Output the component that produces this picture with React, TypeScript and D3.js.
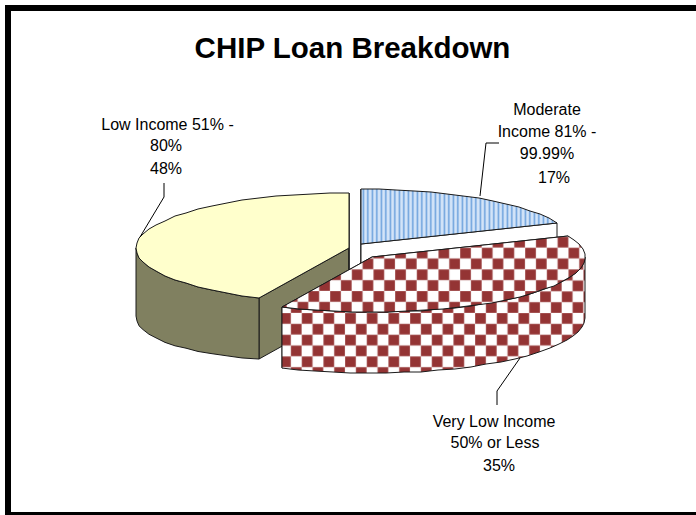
import React from "react";
import * as d3 from "d3";

const title = "CHIP Loan Breakdown";
const categories = ["Moderate Income 81% - 99.99%", "Very Low Income 50% or Less", "Low Income 51% - 80%"];
const shares = [17, 35, 48];
const labelLines = [
  ["Moderate", "Income 81% -", "99.99%", "17%"],
  ["Very Low Income", "50% or Less", "35%"],
  ["Low Income 51% -", "80%", "48%"],
];

// Excel's perspective view stretches the angles seen on the rim.
const rimAngle = d3.scaleLinear().domain([0, 61.2, 187.2, 360]).range([0, 67, 205, 360]);
const rx = 213, ry = 55, depth = 61;
const centres = [[361, 244], [372, 257], [349, 248]];
const topFills = ["url(#stripes)", "url(#checkTop)", "#ffffcc"];
const wallFills = ["#ffffff", "url(#checkSide)", "#808060"];
const labelX = [[547, 547, 547, 554], [494, 495, 499], [167.5, 166, 166]];
const labelY = [[115, 137, 159, 183], [427, 448, 471], [130, 151, 174]];
const leaders = [
  [[480, 196], [486, 143], [499, 143]],
  [[520, 358], [497, 391], [497, 405]],
  [[140, 237], [164, 197], [164, 183]],
];

const rad = Math.PI / 180;
const pt = (c: number[], a: number, dy = 0): [number, number] => [
  Math.round(c[0] + rx * Math.sin(a * rad)),
  Math.round(c[1] - ry * Math.cos(a * rad)) + dy,
];
// the wall looks a little taller towards the far left of the pie
const wallDepth = (a: number) => depth + 7 * Math.max(0, (-Math.sin(a * rad) - 0.42) / 0.58);
const rim = (c: number[], a0: number, a1: number, wall = false) => {
  const n = Math.max(2, Math.ceil((a1 - a0) / 5));
  return d3.range(n + 1).map((i) => {
    const a = a0 + ((a1 - a0) * i) / n;
    return pt(c, a, wall ? wallDepth(a) : 0);
  });
};
const line = d3.line();

export default function App() {
  const arcs = d3.pie<number>().sort(null).value((d) => d)(shares);
  const slices = arcs.map((s, i) => ({
    i,
    c: centres[i],
    a0: rimAngle((s.startAngle * 180) / Math.PI),
    a1: rimAngle((s.endAngle * 180) / Math.PI),
  }));
  const stroke = "#1a1a1a";
  return (
    <svg width={696} height={515} style={{ position: "fixed", left: 0, top: 0, background: "#fff" }}>
      <defs>
        <pattern id="stripes" width={4.5} height={10} patternUnits="userSpaceOnUse" patternTransform="translate(361 0)">
          <rect width={4.5} height={10} fill="#d3e4f8" />
          <rect x={1.6} width={1.5} height={10} fill="#6a9fdc" />
        </pattern>
        {[["checkTop", 308.4, 291], ["checkSide", 301.7, 313]].map(([id, x, y]) => (
          <pattern key={id as string} id={id as string} width={21.67} height={21.67} patternUnits="userSpaceOnUse"
            patternTransform={`translate(${x} ${y})`}>
            <rect width={21.67} height={21.67} fill="#fff" />
            <rect x={0} y={0} width={10.83} height={10.83} fill="#943434" stroke="#d9b4b4" strokeWidth={0.4} />
            <rect x={10.83} y={10.83} width={10.83} height={10.83} fill="#943434" stroke="#d9b4b4" strokeWidth={0.4} />
          </pattern>
        ))}
      </defs>
      <rect x={0} y={0} width={696} height={515} fill="#fff" />
      {/* frame */}
      <rect x={5} y={5} width={691} height={6} fill="#000" />
      <rect x={5} y={5} width={6} height={510} fill="#000" />
      <rect x={5} y={512} width={691} height={3} fill="#000" />
      <text x={352.5} y={58} textAnchor="middle" fontFamily="Liberation Sans" fontWeight="bold" fontSize={29.5} fill="#000">
        {title}
      </text>
      {[2, 0, 1].map((k) => {
        const { c, a0, a1, i } = slices[k];
        const outerFrom = Math.max(a0, 90), outerTo = Math.min(a1, 270);
        const top = rim(c, a0, a1);
        const faceD = line([c as [number, number], ...top])! + "Z";
        const cut = (a: number) =>
          line([c as [number, number], pt(c, a), pt(c, a, depth), [c[0], c[1] + depth]])! + "Z";
        const outer =
          outerTo > outerFrom
            ? line([...rim(c, outerFrom, outerTo), ...rim(c, outerFrom, outerTo, true).reverse()])! + "Z"
            : null;
        return (
          <g key={categories[i]} stroke={stroke} strokeWidth={1} strokeLinejoin="round">
            <path d={cut(a0)} fill={wallFills[i]} />
            <path d={cut(a1)} fill={wallFills[i]} />
            {outer && <path d={outer} fill={wallFills[i]} />}
            <path d={faceD} fill={topFills[i]} />
          </g>
        );
      })}
      {leaders.map((l, i) => (
        <path key={i} d={line(l as [number, number][])!} fill="none" stroke="#000" strokeWidth={1} />
      ))}
      {labelLines.map((lines, i) =>
        lines.map((t, j) => (
          <text key={`${i}-${j}`} x={labelX[i][j]} y={labelY[i][j]} textAnchor="middle"
            fontFamily="Liberation Sans" fontSize={16} fill="#000">
            {t}
          </text>
        ))
      )}
    </svg>
  );
}
